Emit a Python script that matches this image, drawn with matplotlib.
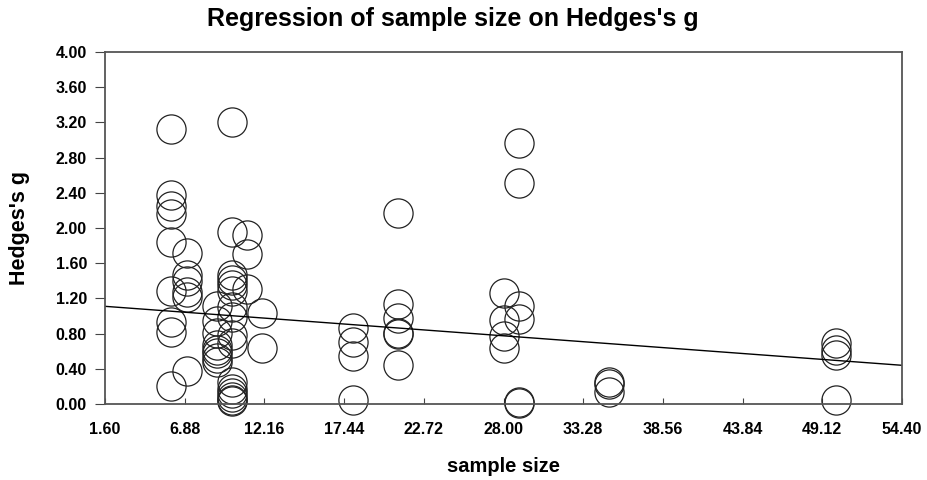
import matplotlib
matplotlib.use('Agg')
import matplotlib.pyplot as plt

# values
sample_size = ([6] * 9 + [7] * 6 + [9] * 8 + [10] * 16 + [11] * 3 + [12] * 2
               + [18] * 4 + [21] * 6 + [28] * 4 + [29] * 6 + [35] * 3 + [50] * 4)
hedges_g = [3.12, 2.37, 2.25, 2.16, 1.84, 1.28, 0.93, 0.82, 0.20,
            1.72, 1.47, 1.40, 1.27, 1.22, 0.38,
            1.11, 0.94, 0.81, 0.67, 0.61, 0.58, 0.52, 0.48,
            3.20, 1.96, 1.47, 1.41, 1.35, 1.28, 1.10, 0.99, 0.78, 0.69,
            0.25, 0.17, 0.12, 0.08, 0.05, 0.03,
            1.92, 1.70, 1.31,
            1.03, 0.64,
            0.86, 0.70, 0.54, 0.05,
            2.17, 1.14, 0.98, 0.81, 0.79, 0.44,
            1.26, 0.95, 0.77, 0.64,
            2.97, 2.51, 1.11, 0.97, 0.02, 0.01,
            0.25, 0.23, 0.14,
            0.69, 0.61, 0.56, 0.05]

# regression line end points
line_x = [1.60, 54.40]
line_y = [1.11, 0.44]

x_ticks = [1.60, 6.88, 12.16, 17.44, 22.72, 28.00, 33.28, 38.56, 43.84, 49.12, 54.40]
x_labels = ['1.60', '6.88', '12.16', '17.44', '22.72', '28.00', '33.28',
            '38.56', '43.84', '49.12', '54.40']
y_ticks = [0.0, 0.4, 0.8, 1.2, 1.6, 2.0, 2.4, 2.8, 3.2, 3.6, 4.0]
y_labels = ['0.00', '0.40', '0.80', '1.20', '1.60', '2.00', '2.40',
            '2.80', '3.20', '3.60', '4.00']

plt.rcParams['font.family'] = ['Liberation Sans', 'DejaVu Sans']

fig = plt.figure(figsize=(9.27, 4.8), dpi=100)
ax = fig.add_axes([0.1133, 0.1583, 0.8597, 0.7334])

ax.plot(sample_size, hedges_g, 'o', ms=21, mfc='none', mec='#222222',
        mew=0.9, clip_on=False)
ax.plot(line_x, line_y, '-', color='black', lw=1.0)

ax.set_xlim(1.6, 54.4)
ax.set_ylim(0, 4)
ax.set_xticks(x_ticks)
ax.set_xticklabels(x_labels, fontsize=11.5, fontweight='bold')
ax.set_yticks(y_ticks)
ax.set_yticklabels(y_labels, fontsize=11.5, fontweight='bold')
ax.tick_params(axis='x', direction='in', length=4, pad=13, color='#444444')
ax.tick_params(axis='y', direction='out', length=7, pad=6, color='#444444')

for s in ax.spines.values():
    s.set_color('#555555')
    s.set_linewidth(1.3)

ax.set_xlabel('sample size', fontsize=14.5, fontweight='bold', labelpad=14)
ax.set_ylabel("Hedges's g", fontsize=15.5, fontweight='bold')
ax.yaxis.set_label_coords(-0.094, 0.5)
fig.text(0.4887, 0.961, "Regression of sample size on Hedges's g",
         ha='center', va='center', fontsize=18, fontweight='bold')

plt.savefig('out.png', dpi=100)
